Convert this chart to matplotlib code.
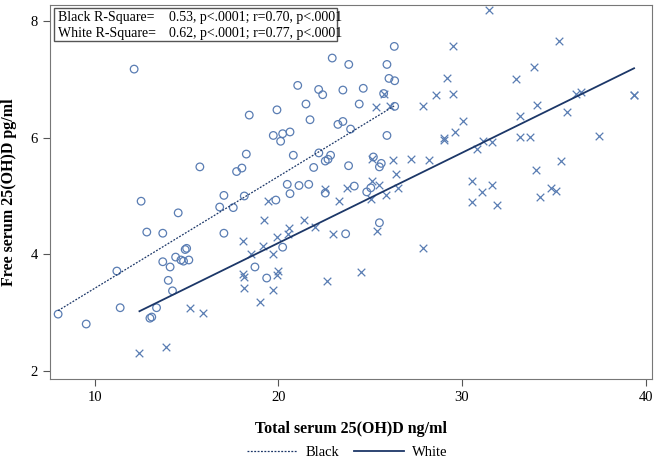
import numpy as np
from matplotlib import pyplot as plt
from matplotlib.lines import Line2D

# Black group (open circles)
black_x = [8.0, 9.53, 11.2, 11.38, 12.14, 12.52, 12.83, 13.0, 13.1, 13.36,
           13.7, 13.7, 14.0, 14.1, 14.23, 14.4, 14.54, 14.69, 14.83, 14.92,
           15.0, 15.12, 15.72, 16.8, 17.03, 17.03, 17.54, 17.72, 18.01, 18.14,
           18.25, 18.41, 18.72, 19.36, 19.72, 19.86, 19.92, 20.12, 20.23, 20.23,
           20.48, 20.63, 20.63, 20.81, 21.05, 21.12, 21.5, 21.65, 21.72, 21.92,
           22.19, 22.2, 22.41, 22.55, 22.55, 22.7, 22.84, 22.93, 23.24, 23.51,
           23.51, 23.66, 23.82, 23.83, 23.93, 24.13, 24.4, 24.62, 24.81, 25.03,
           25.17, 25.5, 25.5, 25.6, 25.73, 25.91, 25.91, 26.02, 26.31, 26.33,
           26.33]
black_y = [2.97, 2.80, 3.71, 3.08, 7.18, 4.91, 4.38, 2.90, 2.92, 3.08,
           4.36, 3.87, 3.55, 3.78, 3.37, 3.95, 4.71, 3.90, 3.88, 4.08,
           4.10, 3.90, 5.50, 4.81, 5.01, 4.36, 4.80, 5.42, 5.48, 5.00,
           5.72, 6.39, 3.78, 3.59, 6.04, 4.93, 6.48, 5.94, 6.07, 4.12,
           5.20, 6.10, 5.04, 5.70, 6.90, 5.18, 6.58, 5.20, 6.31, 5.49,
           6.83, 5.74, 6.74, 5.60, 5.05, 5.63, 5.70, 7.37, 6.23, 6.82,
           6.28, 4.35, 5.52, 7.26, 6.15, 5.17, 6.58, 6.85, 5.07, 5.14,
           5.67, 5.50, 4.54, 5.56, 6.76, 7.26, 6.04, 7.02, 7.57, 6.98,
           6.54]

# White group (crosses)
white_x = [12.43, 13.89, 15.18, 15.9, 18.07, 18.07, 18.14, 18.14, 18.49, 19.01,
           19.17, 19.23, 19.41, 19.68, 19.68, 19.93, 19.95, 19.93, 20.55, 20.5,
           21.37, 22.0, 22.55, 22.63, 22.99, 23.3, 23.72, 24.5, 25.02, 25.08,
           25.08, 25.31, 25.39, 25.5, 25.73, 25.84, 26.08, 26.26, 26.39, 26.51,
           27.22, 27.85, 27.89, 28.22, 28.58, 29.0, 29.03, 29.2, 29.51, 29.51,
           29.62, 30.04, 30.53, 30.54, 30.83, 31.07, 31.16, 31.49, 31.62, 31.65,
           31.92, 32.94, 33.14, 33.18, 33.69, 33.94, 34.02, 34.07, 34.25, 34.83,
           35.12, 35.3, 35.38, 35.71, 36.21, 36.47, 37.46, 39.37, 39.37]
white_y = [2.31, 2.40, 3.08, 2.99, 4.23, 3.66, 3.60, 3.42, 4.00, 3.17,
           4.14, 4.59, 4.92, 4.00, 3.39, 4.29, 3.71, 3.64, 4.45, 4.35,
           4.58, 4.46, 5.12, 3.54, 4.34, 4.92, 5.13, 3.70, 4.95, 5.25,
           5.63, 6.53, 4.40, 5.19, 6.76, 5.01, 6.55, 5.61, 5.38, 5.13,
           5.63, 6.54, 4.10, 5.61, 6.74, 5.99, 5.96, 7.03, 7.58, 6.76,
           6.10, 6.29, 5.25, 4.89, 5.81, 5.07, 5.94, 8.19, 5.92, 5.19,
           4.84, 7.01, 6.37, 6.01, 6.01, 7.22, 5.44, 6.56, 4.98, 5.13,
           5.09, 7.66, 5.60, 6.45, 6.76, 6.78, 6.03, 6.74, 6.74]

stats_labels = ["Black R-Square=", "White R-Square="]
stats_values = ["0.53, p<.0001; r=0.70, p<.0001", "0.62, p<.0001; r=0.77, p<.0001"]

plt.rcParams['font.family'] = ['Liberation Serif', 'DejaVu Serif']

marker_col = '#5a7db3'
line_col = '#1c3768'

fig = plt.figure(figsize=(6.56, 4.62), dpi=100)
ax = fig.add_axes([0.076, 0.179, 0.918, 0.81])

ax.scatter(black_x, black_y, s=30, facecolors='none', edgecolors=marker_col, linewidths=0.9, marker='o')
ax.scatter(white_x, white_y, s=30, c=marker_col, linewidths=0.9, marker='x')

# regression lines
for xs, ys, ls, lw in [(black_x, black_y, (0, (1.5, 1.2)), 0.9), (white_x, white_y, '-', 1.3)]:
    b, a = np.polyfit(xs, ys, 1)
    xx = np.array([min(xs), max(xs)])
    ax.plot(xx, a + b * xx, color=line_col, linestyle=ls, linewidth=lw)

ax.set_xlim(7.55, 40.35)
ax.set_ylim(1.85, 8.28)
ax.set_xticks([10, 20, 30, 40])
ax.set_yticks([2, 4, 6, 8])
ax.tick_params(labelsize=10.5, direction='out', length=5, color='#555555')
for s in ax.spines.values():
    s.set_color('#777777')

ax.set_xlabel("Total serum 25(OH)D ng/ml", fontsize=11.5, fontweight='bold', labelpad=12)
ax.set_ylabel("Free serum 25(OH)D pg/ml", fontsize=11.5, fontweight='bold', labelpad=10)

# stats box
box = plt.Rectangle((0.007, 0.905), 0.470, 0.087, transform=ax.transAxes, fill=False,
                    edgecolor='#555555', linewidth=1.0)
ax.add_patch(box)
for i in range(2):
    yy = 0.968 - i * 0.045
    ax.text(0.014, yy, stats_labels[i], transform=ax.transAxes, fontsize=10, va='center')
    ax.text(0.198, yy, stats_values[i], transform=ax.transAxes, fontsize=10, va='center')

handles = [Line2D([], [], color=line_col, linestyle=(0, (1.5, 1.2)), linewidth=0.9),
           Line2D([], [], color=line_col, linestyle='-', linewidth=1.3)]
fig.legend(handles, ["Black", "White"], loc='lower center', bbox_to_anchor=(0.53, -0.022),
           ncol=2, frameon=False, fontsize=10.5, handlelength=3.4, handletextpad=0.6,
           columnspacing=1.0)

fig.savefig("out.png", dpi=100)
